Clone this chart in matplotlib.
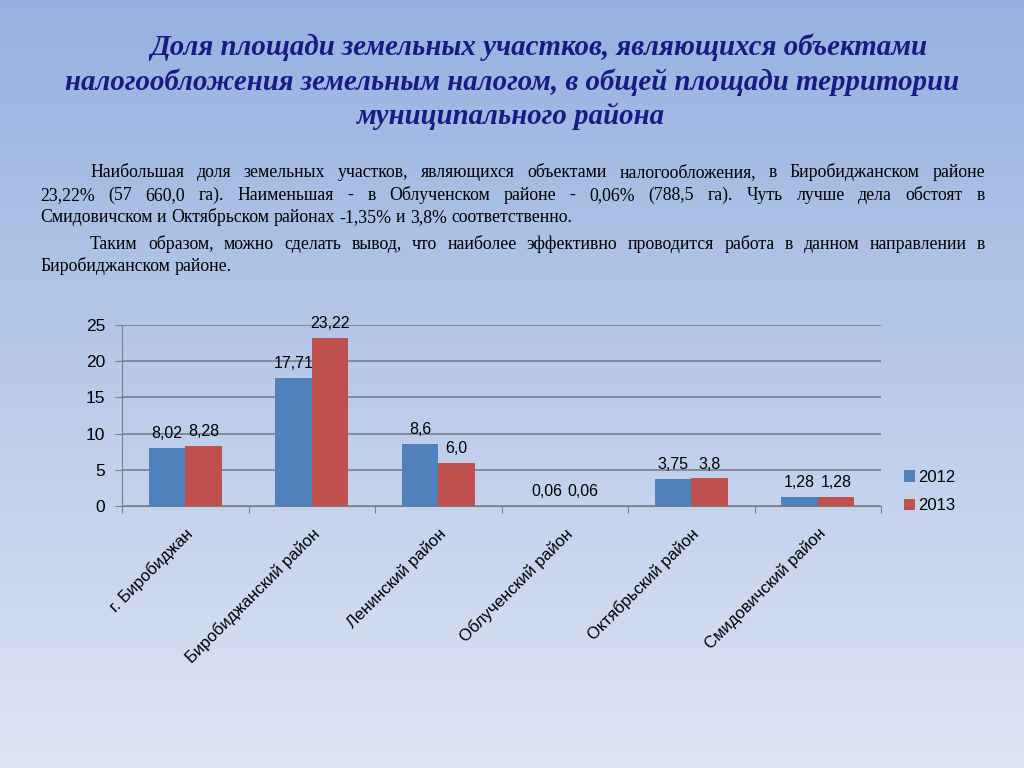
import numpy as np
import matplotlib
matplotlib.use("Agg")
import matplotlib.pyplot as plt

# data
districts = ["г. Биробиджан", "Биробиджанский район", "Ленинский район",
             "Облученский район", "Октябрьский район", "Смидовичский район"]
share_2012 = [8.02, 17.71, 8.6, 0.06, 3.75, 1.28]
share_2013 = [8.28, 23.22, 6.0, 0.06, 3.8, 1.28]
labels_2012 = ["8,02", "17,71", "8,6", "0,06", "3,75", "1,28"]
labels_2013 = ["8,28", "23,22", "6,0", "0,06", "3,8", "1,28"]
years = ["2012", "2013"]
y_ticks = [0, 5, 10, 15, 20, 25]

title_lines = [
    "Доля площади земельных участков, являющихся объектами",
    "налогообложения земельным налогом, в общей площади территории",
    "муниципального района",
]
para1 = [
    "Наибольшая доля земельных участков, являющихся объектами налогообложения, в Биробиджанском районе",
    "23,22% (57 660,0 га). Наименьшая - в Облученском районе - 0,06% (788,5 га). Чуть лучше дела обстоят в",
    "Смидовичском и Октябрьском районах -1,35% и 3,8% соответственно.",
]
para2 = [
    "Таким образом, можно сделать вывод, что наиболее эффективно проводится работа в данном направлении в",
    "Биробиджанском районе.",
]

W, H = 1024, 768
fig = plt.figure(figsize=(W / 100, H / 100), dpi=100)

# gradient background
bg = fig.add_axes([0, 0, 1, 1], zorder=-10)
top = np.array([150, 177, 224]) / 255
bot = np.array([222, 228, 243]) / 255
t = np.linspace(0, 1, 256)[:, None, None]
grad = top + (bot - top) * t
grad = np.repeat(grad, 4, axis=1)
bg.imshow(grad, aspect="auto", extent=[0, 1, 0, 1], origin="upper")
bg.axis("off")

# title
title_kw = dict(family="Liberation Serif", weight="bold", style="italic",
                size=20.8, color="#1a1a86", va="baseline")
fig.text(150 / W, 1 - 55 / H, title_lines[0], ha="left", **title_kw)
fig.text(512 / W, 1 - 90 / H, title_lines[1], ha="center", **title_kw)
fig.text(511 / W, 1 - 124 / H, title_lines[2], ha="center", **title_kw)

# body text (justified by hand, word by word)
renderer = fig.canvas.get_renderer()
body_kw = dict(family="Liberation Serif", size=12.8, color="black", va="baseline")


def justified(line, y, x0, x1, stretch=True):
    words = line.split(" ")
    texts = [fig.text(0, 1 - y / H, w, **body_kw) for w in words]
    widths = [tx.get_window_extent(renderer).width for tx in texts]
    space = fig.text(0, 0, "a a", **body_kw)
    sp = space.get_window_extent(renderer).width
    space.set_text("aa")
    sp -= space.get_window_extent(renderer).width
    space.remove()
    if stretch and len(words) > 1:
        gap = (x1 - x0 - sum(widths)) / (len(words) - 1)
    else:
        gap = sp
    x = x0
    for tx, w in zip(texts, widths):
        tx.set_x(x / W)
        x += w + gap


justified(para1[0], 177, 90, 985)
justified(para1[1], 200, 40, 985)
justified(para1[2], 222, 40, 985, stretch=False)
justified(para2[0], 249, 90, 985)
justified(para2[1], 271, 40, 985, stretch=False)

# chart
ax = fig.add_axes([122 / W, 1 - 506 / H, (881 - 122) / W, (506 - 325) / H])
ax.set_facecolor("none")
x = np.arange(len(districts))
bw = 0.29
ax.bar(x - bw / 2, share_2012, bw, color="#4f81bd", label=years[0], zorder=3)
ax.bar(x + bw / 2, share_2013, bw, color="#c0504d", label=years[1], zorder=3)

for xi, v, lab in zip(x, share_2012, labels_2012):
    ax.annotate(lab, (xi - bw / 2, v), xytext=(0, 5), textcoords="offset points",
                ha="center", va="bottom", family="Liberation Sans", size=11.5)
for xi, v, lab in zip(x, share_2013, labels_2013):
    ax.annotate(lab, (xi + bw / 2, v), xytext=(0, 5), textcoords="offset points",
                ha="center", va="bottom", family="Liberation Sans", size=11.5)

ax.set_xlim(-0.5, len(districts) - 0.5)
ax.set_ylim(0, 25)
ax.set_yticks(y_ticks)
ax.set_yticklabels([str(v) for v in y_ticks], family="Liberation Sans", size=12.5)
ax.yaxis.grid(True, color="#6f7b8a", linewidth=1.1, zorder=0)
ax.set_axisbelow(True)

ax.set_xticks(np.arange(-0.5, len(districts), 1.0))
ax.set_xticklabels([])
ax.tick_params(axis="x", length=5, color="#7f7f7f")
ax.tick_params(axis="y", length=5, color="#7f7f7f", pad=7)
ax.set_xticks(x, minor=True)
ax.set_xticklabels(districts, minor=True, rotation=45, ha="right", va="top",
                   rotation_mode="anchor", family="Liberation Sans", size=12)
ax.tick_params(axis="x", which="minor", length=0, pad=14)

for s in ["top", "right"]:
    ax.spines[s].set_visible(False)
for s in ["left", "bottom"]:
    ax.spines[s].set_color("#7f7f7f")

ax.legend(loc="center left", bbox_to_anchor=(1.01, 0.08), frameon=False,
          handlelength=0.7, handleheight=0.7, handletextpad=0.2,
          labelspacing=0.8, prop={"family": "Liberation Sans", "size": 12})

fig.savefig("out.png", dpi=100)
